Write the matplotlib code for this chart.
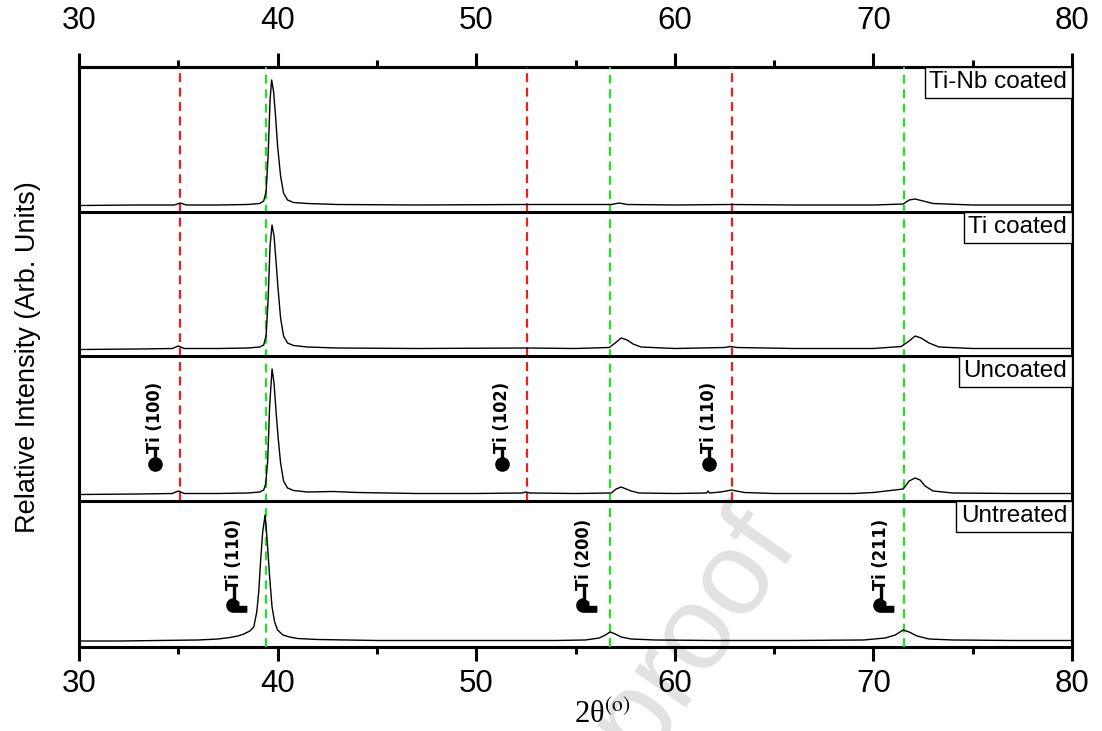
#!/usr/bin/env python3
import numpy as np
import matplotlib
matplotlib.use('Agg')
import matplotlib.pyplot as plt
from matplotlib.path import Path
from matplotlib.ticker import MultipleLocator
from matplotlib import transforms

plt.rcParams['font.family'] = ['Liberation Sans', 'DejaVu Sans']
plt.rcParams['mathtext.fontset'] = 'stix'

# Sample names, bottom to top, and the baseline of each stacked panel
samples = ['Untreated', 'Uncoated', 'Ti coated', 'Ti-Nb coated']
panel_base = [0, 146, 291, 435]
panel_top = 580

# Diffraction patterns (2theta in degrees, intensity in arb. units above the panel base)
untreated_tt = [30, 32, 34, 36, 37, 37.6, 38.0, 38.3, 38.6, 38.8, 38.95, 39.05, 39.15,
                39.25, 39.37, 39.48, 39.6, 39.72, 39.85, 40.0, 40.27, 40.6, 41, 42, 45,
                50, 54, 55.5, 56.2, 56.5, 56.75, 57.0, 57.3, 57.8, 59, 62, 66, 69.5,
                70.6, 71.1, 71.5, 71.8, 72.2, 72.8, 74, 77, 80]
untreated_i = [6, 6, 6.5, 7, 8, 9.5, 11, 13, 16, 20, 35, 55, 88,
               115, 132, 105, 70, 40, 25, 17, 12, 10, 8.5, 7.5, 6.5,
               6.5, 6.5, 7, 9, 12, 15, 13, 10, 8, 7, 6.5, 6.5, 7,
               9, 12, 17, 15, 11, 8, 7, 6.5, 6.5]

uncoated_tt = [30, 33, 34.7, 35.0, 35.3, 37, 38.5, 39.1, 39.3, 39.4, 39.5, 39.6, 39.72,
               39.82, 39.92, 40.02, 40.15, 40.3, 40.5, 40.8, 41.5, 42.8, 44, 47, 50,
               52.3, 52.5, 52.7, 55, 56.8, 57.05, 57.3, 57.55, 57.8, 58.2, 60, 61.6,
               61.67, 61.75, 62.3, 62.6, 62.85, 63.1, 63.5, 65, 69, 70, 71.5, 71.8,
               72.1, 72.35, 72.6, 73, 74, 77, 80]
uncoated_i = [6.5, 7, 7.5, 10, 7.5, 7.5, 8, 9, 11, 17, 40, 95, 132,
              118, 90, 65, 38, 20, 13, 10.5, 9, 9.5, 8.5, 7.5, 7.5,
              8, 9, 8, 7.5, 8, 12, 14, 12, 10, 8, 7.5, 8,
              10, 8, 9, 10, 11, 10, 8.5, 7.5, 7.5, 8.5, 12, 20,
              23, 21, 15, 10, 8, 7.5, 7.5]

ti_tt = [30, 33, 34.7, 35.0, 35.3, 37, 38.5, 39.1, 39.3, 39.42, 39.52, 39.62, 39.72,
         39.82, 39.92, 40.02, 40.15, 40.3, 40.5, 40.8, 41.5, 43, 47, 52.5, 55, 56.7,
         57.0, 57.3, 57.6, 57.9, 58.3, 60, 62.5, 62.8, 63.1, 66, 70, 71.4, 71.8,
         72.1, 72.4, 72.8, 73.3, 75, 80]
ti_i = [6.5, 7, 7.5, 10, 7.5, 7.5, 8, 9, 11, 20, 55, 110, 131,
        120, 95, 68, 38, 20, 13, 10.5, 9, 8, 7.5, 8, 7.5, 8.5,
        13, 18, 16, 12, 9, 7.5, 8.5, 9.5, 8.5, 7.5, 7.5, 9.5, 15,
        20, 18, 13, 9, 7.5, 7.5]

tinb_tt = [30, 33, 34.8, 35.1, 35.4, 37, 38.5, 39.1, 39.3, 39.42, 39.52, 39.62, 39.7,
           39.8, 39.9, 40.0, 40.15, 40.3, 40.5, 40.8, 41.5, 43, 47, 52.5, 56.8, 57.2,
           57.6, 60, 62.8, 66, 70, 71.5, 71.8, 72.1, 72.5, 73, 75, 80]
tinb_i = [6.5, 7, 7, 9, 7, 7, 7.5, 8.5, 11, 20, 55, 112, 132,
          120, 95, 66, 36, 19, 12, 9.5, 8.5, 7.5, 7, 7.5, 7.5, 9,
          7.5, 7, 7.5, 7, 7, 8, 12, 13, 11, 8.5, 7, 7]

patterns = [(untreated_tt, untreated_i), (uncoated_tt, uncoated_i),
            (ti_tt, ti_i), (tinb_tt, tinb_i)]

# Reference peak positions
red_lines = [35.08, 52.55, 62.9]      # alpha-Ti
green_lines = [39.42, 56.74, 71.54]   # beta-Ti

alpha_labels = ['Ti (100)', 'Ti (102)', 'Ti (110)']
alpha_x = [33.85, 51.3, 61.7]
alpha_y = 183
beta_labels = ['Ti (110)', 'Ti (200)', 'Ti (211)']
beta_x = [37.75, 55.4, 70.35]
beta_y = 42

fig = plt.figure(figsize=(11.02, 7.31), dpi=100)
ax = fig.add_axes([79 / 1102, 84 / 731, 993 / 1102, 580 / 731])
ax.patch.set_alpha(0)

for (tt, inten), base in zip(patterns, panel_base):
    ax.plot(tt, np.array(inten) + base, color='black', lw=1.0, zorder=4)

for b in panel_base[1:]:
    ax.axhline(b, color='black', lw=2.2, zorder=5)

dash = (0, (4.0, 2.5))
ax.vlines(red_lines, panel_base[1], panel_top, colors='#f21c1c', lw=1.6,
          linestyles=[dash], zorder=3)
ax.vlines(green_lines, 0, panel_top, colors='#22e022', lw=1.6,
          linestyles=[dash], zorder=3)

# sample name boxes in the top-right corner of each panel
ytrans = ax.get_yaxis_transform()
for name, b in zip(samples, panel_base[1:] + [panel_top]):
    tr = transforms.offset_copy(ytrans, fig=fig, x=-3.5, y=-3.0, units='points')
    ax.text(1.0, b, name, transform=tr, ha='right', va='top', fontsize=17.5,
            zorder=6,
            bbox=dict(boxstyle='square,pad=0.18', fc='white', ec='black', lw=1.0))

# peak markers: alpha-Ti as a filled dot, beta-Ti as a boot-shaped glyph
theta = np.linspace(np.pi / 2, 3 * np.pi / 2, 24)
boot = list(zip(np.cos(theta), np.sin(theta))) + [(2.0, -1), (2.0, -0.15), (0.8, -0.15),
                                                 (0.8, 0.5), (0, 1)]
boot_marker = Path(boot + [boot[0]], closed=True)

label_font = dict(family=['DejaVu Sans'], fontstretch='condensed',
                  fontweight='bold', fontsize=13, rotation=90, ha='center', va='bottom')
for lab, x in zip(alpha_labels, alpha_x):
    ax.plot([x], [alpha_y], 'o', ms=9.5, color='black', zorder=6)
    ax.plot([x, x], [alpha_y, alpha_y + 13], color='black', lw=2.4, zorder=6)
    ax.text(x, alpha_y + 11, lab, zorder=6, **label_font)
for lab, x in zip(beta_labels, beta_x):
    ax.plot([x], [beta_y], marker=boot_marker, ms=19, color='black', zorder=6)
    ax.plot([x + 0.05, x + 0.05], [beta_y, beta_y + 17], color='black', lw=2.4, zorder=6)
    ax.text(x + 0.05, beta_y + 15, lab, zorder=6, **label_font)

ax.set_xlim(30, 80)
ax.set_ylim(0, panel_top)
ax.set_yticks([])
ax.xaxis.set_major_locator(MultipleLocator(10))
ax.xaxis.set_minor_locator(MultipleLocator(5))
ax.tick_params(axis='x', which='major', direction='out', length=10, width=2.2,
               labelsize=22.5, pad=6)
ax.tick_params(axis='x', which='minor', direction='out', length=5, width=2.2)
for sp in ax.spines.values():
    sp.set_linewidth(2.2)

top = ax.secondary_xaxis('top')
top.xaxis.set_major_locator(MultipleLocator(10))
top.xaxis.set_minor_locator(MultipleLocator(5))
top.tick_params(axis='x', which='major', direction='out', length=10, width=2.2,
                labelsize=22.5, pad=12)
top.tick_params(axis='x', which='minor', direction='out', length=5, width=2.2)
top.spines['top'].set_linewidth(2.2)

ax.set_xlabel('2θ$^{\\mathrm{(o)}}$', family='Liberation Serif', fontsize=22)
ax.xaxis.set_label_coords(0.527, -0.092)
ax.set_ylabel('Relative Intensity (Arb. Units)', fontsize=19.5, labelpad=27)

fig.text(0.63, 0.135, 'proof', fontsize=86, color='#e2e2e2', rotation=55,
         ha='center', va='center', zorder=-1)

fig.savefig('out.png', dpi=100)
